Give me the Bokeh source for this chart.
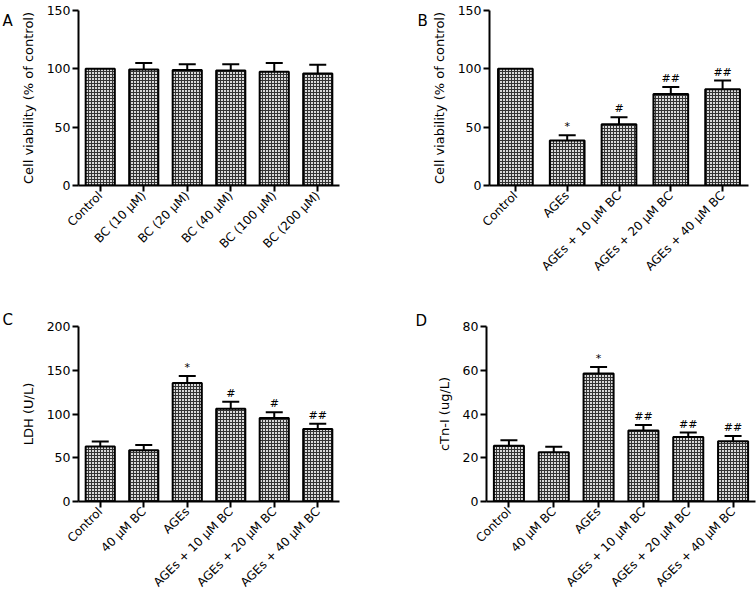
import math
from bokeh.plotting import figure
from bokeh.models import ColumnDataSource, FactorRange, Range1d, FixedTicker, Whisker, TeeHead
from bokeh.layouts import row, column
from bokeh.embed import file_html
from bokeh.resources import INLINE
from bokeh.core.properties import value

# ---- data ----
a_cats = ["Control", "BC (10 µM)", "BC (20 µM)", "BC (40 µM)", "BC (100 µM)", "BC (200 µM)"]
a_vals = [100, 99.5, 99, 98.5, 97.5, 96]
a_errs = [0, 5.5, 5, 5.5, 7.5, 7.5]
a_sig = ["", "", "", "", "", ""]

b_cats = ["Control", "AGEs", "AGEs + 10 µM BC", "AGEs + 20 µM BC", "AGEs + 40 µM BC"]
b_vals = [100, 38.5, 52.5, 78.5, 82.5]
b_errs = [0, 4.5, 6, 6, 7.5]
b_sig = ["", "*", "#", "##", "##"]

c_cats = ["Control", "40 µM BC", "AGEs", "AGEs + 10 µM BC", "AGEs + 20 µM BC", "AGEs + 40 µM BC"]
c_vals = [63, 58.5, 135.5, 106, 95.5, 83]
c_errs = [5.5, 6, 8, 8, 6.5, 6]
c_sig = ["", "", "*", "#", "#", "##"]

d_cats = ["Control", "40 µM BC", "AGEs", "AGEs + 10 µM BC", "AGEs + 20 µM BC", "AGEs + 40 µM BC"]
d_vals = [25.5, 22.5, 58.5, 32.5, 29.5, 27.5]
d_errs = [2.5, 2.5, 3, 2.5, 2, 2.5]
d_sig = ["", "", "*", "##", "##", "##"]

ab_ticks = [0, 50, 100, 150]
c_ticks = [0, 50, 100, 150, 200]
d_ticks = [0, 20, 40, 60, 80]

panel_letters = ["A", "B", "C", "D"]

FONT = "DejaVu Sans"


def letter_fig(letter, width, height, lx, baseline_from_top):
    # small strip holding the panel letter; ranges are in pixels
    f = figure(width=width, height=height, x_range=Range1d(0, width), y_range=Range1d(0, height),
               output_backend="svg", toolbar_location=None, frame_align=False,
               min_border_left=0, min_border_right=0, min_border_top=0, min_border_bottom=0,
               x_axis_location=None, y_axis_location=None)
    f.xgrid.grid_line_color = None
    f.ygrid.grid_line_color = None
    f.outline_line_color = None
    f.text(x=[lx], y=[height - baseline_from_top], text=[letter], text_align="left",
           text_baseline="alphabetic", text_font=value(FONT), text_font_size="15px",
           text_color="black")
    return f


def panel(cats, vals, errs, sig, ticks, ylabel, width, height, mb):
    p = figure(x_range=FactorRange(*cats, range_padding=0),
               y_range=Range1d(ticks[0], ticks[-1]),
               width=width, height=height, output_backend="svg", toolbar_location=None,
               min_border_left=mb[0], min_border_right=mb[1],
               min_border_top=mb[2], min_border_bottom=mb[3])
    upper = [v + e for v, e in zip(vals, errs)]
    src = ColumnDataSource(dict(x=cats, top=vals, upper=upper, sig=sig))
    p.vbar(x="x", top="top", bottom=0, width=0.67, source=src,
           fill_color="#d8d8d8", line_color="black", line_width=2,
           hatch_pattern="+", hatch_scale=3, hatch_weight=1, hatch_color="#333333")
    idx = [i for i, e in enumerate(errs) if e > 0]
    wsrc = ColumnDataSource(dict(x=[cats[i] for i in idx],
                                 lower=[vals[i] for i in idx],
                                 upper=[upper[i] for i in idx]))
    w = Whisker(base="x", lower="lower", upper="upper", source=wsrc,
                line_width=2, line_color="black",
                upper_head=TeeHead(size=17, line_width=2, line_color="black"),
                lower_head=None)
    p.add_layout(w)
    p.text(x="x", y="upper", text="sig", source=src, text_align="center",
           text_baseline="bottom", y_offset=-2, text_font=value(FONT),
           text_font_size="11px", text_color="black")

    for ax in (p.xaxis[0], p.yaxis[0]):
        ax.axis_line_width = 2
        ax.axis_line_color = "black"
        ax.major_tick_line_width = 2
        ax.major_tick_line_color = "black"
        ax.major_tick_out = 6
        ax.major_tick_in = 0
        ax.minor_tick_line_color = None
        ax.major_label_text_font = FONT
        ax.major_label_text_color = "black"
        ax.major_label_standoff = 2
    p.xaxis.major_label_orientation = math.pi / 4
    p.xaxis.major_label_text_font_size = "12px"
    p.yaxis.major_label_text_font_size = "12.5px"
    p.yaxis.ticker = FixedTicker(ticks=ticks)
    p.yaxis.axis_label = ylabel
    p.yaxis.axis_label_text_font = FONT
    p.yaxis.axis_label_text_font_size = "13px"
    p.yaxis.axis_label_text_font_style = "normal"
    p.yaxis.axis_label_text_color = "black"
    p.yaxis.axis_label_standoff = 8
    p.xgrid.grid_line_color = None
    p.ygrid.grid_line_color = None
    p.outline_line_color = None
    p.background_fill_color = "white"
    p.border_fill_color = "white"
    return p


la = letter_fig(panel_letters[0], 17, 300, 2, 20)
pa = panel(a_cats, a_vals, a_errs, a_sig, ab_ticks, "Cell viability (% of control)",
           361, 300, (57, 39, 10, 115))
lb = letter_fig(panel_letters[1], 50, 300, 39, 20)
pb = panel(b_cats, b_vals, b_errs, b_sig, ab_ticks, "Cell viability (% of control)",
           328, 300, (60, 8, 10, 115))
lc = letter_fig(panel_letters[2], 17, 304, 2, 19)
pc = panel(c_cats, c_vals, c_errs, c_sig, c_ticks, "LDH (U/L)",
           361, 304, (56, 39, 25, 103))
ld = letter_fig(panel_letters[3], 50, 304, 37, 20)
pd = panel(d_cats, d_vals, d_errs, d_sig, d_ticks, "cTn-I (ug/L)",
           328, 304, (58, 1, 26, 103))

layout = column(row(la, pa, lb, pb), row(lc, pc, ld, pd))

open("out.html", "w").write(file_html(layout, INLINE))
